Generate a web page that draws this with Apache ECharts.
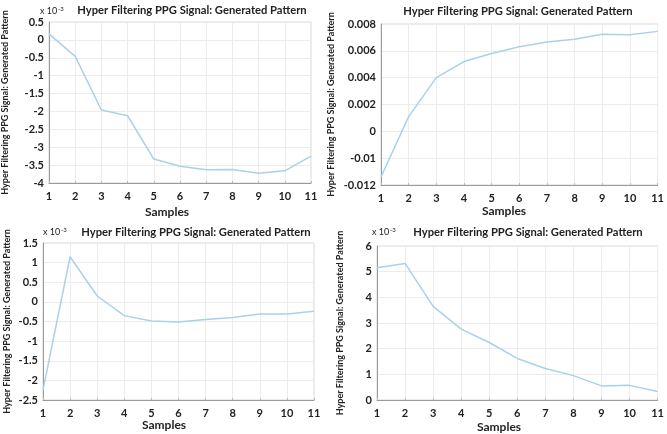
<!DOCTYPE html>
<html>
<head>
<meta charset="utf-8">
<script src="https://cdn.jsdelivr.net/npm/echarts@6/dist/echarts.min.js"></script>
<style>
html,body{margin:0;padding:0;background:#fff;}
#chart{width:667px;height:434px;}
</style>
</head>
<body>
<div id="chart"></div>
<script>
// ---- data ----
const samples = [1, 2, 3, 4, 5, 6, 7, 8, 9, 10, 11];
// panel 1 (top-left), values in units of 1e-3
const seriesTL = [0.17, -0.46, -1.96, -2.12, -3.33, -3.53, -3.63, -3.62, -3.73, -3.66, -3.25];
// panel 2 (top-right), raw values on the plotted scale
const seriesTR = [-0.0034, 0.0011, 0.0040, 0.0052, 0.0058, 0.0063, 0.00665, 0.00686, 0.00724, 0.0072, 0.00745];
const tickLabelsTR = ["-0.012", "-0.01", "0", "0.002", "0.004", "0.006", "0.008"];
// panel 3 (bottom-left), values in units of 1e-3
const seriesBL = [-2.25, 1.15, 0.15, -0.35, -0.49, -0.51, -0.45, -0.40, -0.31, -0.31, -0.24];
// panel 4 (bottom-right), values in units of 1e-3
const seriesBR = [5.15, 5.32, 3.65, 2.76, 2.24, 1.62, 1.23, 0.95, 0.55, 0.57, 0.33];

const titleText = "Hyper Filtering PPG Signal: Generated Pattern";
const yNameText = "Hyper Filtering PPG Signal: Generated Pattern";
const xNameText = "Samples";
const scaleText = "x 10";
const scaleExp = "-3";

const FONT = "Lato";
const LINE = "#a9d1ec";

const grids = [
  {left: 49, top: 22, width: 262, height: 161},
  {left: 381, top: 24, width: 282, height: 161},
  {left: 43, top: 243, width: 271, height: 157},
  {left: 377, top: 246, width: 288, height: 154}
];

function xAxisFor(i) {
  return {
    type: 'value', gridIndex: i, min: 1, max: 11, interval: 1,
    axisLine: {show: true, onZero: false, lineStyle: {color: '#9a9a9a', width: 1}},
    axisTick: {show: true, inside: true, length: 2, lineStyle: {color: '#bbb'}},
    axisLabel: {color: '#222', fontFamily: FONT, fontWeight: 'bold', fontSize: 11, margin: 8},
    splitLine: {show: true, lineStyle: {color: '#ececec', width: 1}}
  };
}
function yAxisFor(i, min, max, interval, gap, fmt) {
  const a = {
    type: 'value', gridIndex: i, min: min, max: max, interval: interval,
    name: yNameText, nameLocation: 'middle', nameGap: gap, nameRotate: 90,
    nameTextStyle: {color: '#222', fontFamily: FONT, fontSize: 9, fontWeight: 'bold'},
    axisLine: {show: true, onZero: false, lineStyle: {color: '#9a9a9a', width: 1}},
    axisTick: {show: false},
    axisLabel: {color: '#222', fontFamily: FONT, fontWeight: 'bold', fontSize: 11, margin: 5},
    splitLine: {show: true, lineStyle: {color: '#ececec', width: 1}}
  };
  if (fmt) a.axisLabel.formatter = fmt;
  return a;
}

function seriesFor(i, vals) {
  return {
    type: 'line', xAxisIndex: i, yAxisIndex: i,
    data: samples.map((s, k) => [s, vals[k]]),
    showSymbol: false, symbol: 'none',
    lineStyle: {color: LINE, width: 1.5},
    silent: true, animation: false
  };
}

function textG(x, y, text, size, align, weight) {
  return {type: 'text', x: x, y: y, style: {text: text, font: (weight || 'bold') + ' ' + size + 'px ' + FONT, fill: '#222', textAlign: align || 'center', textVerticalAlign: 'middle'}};
}
function scaleG(x, y) {
  return [textG(x, y, scaleText, 9, 'left', 'normal'), textG(x + 18, y - 2, scaleExp, 6, 'left', 'normal')];
}

const chart = echarts.init(document.getElementById('chart'), null, {renderer: 'canvas'});
const tlFmt = v => String(Math.round(v * 10) / 10);
const trFmt = v => {
  const idx = Math.round((v - (-0.004)) / 0.002);
  return tickLabelsTR[idx] !== undefined ? tickLabelsTR[idx] : '';
};

chart.setOption({
  animation: false,
  backgroundColor: '#fff',
  grid: grids.map(g => Object.assign({show: true, borderColor: '#d8d8d8', borderWidth: 1}, g)),
  xAxis: [0, 1, 2, 3].map(xAxisFor),
  yAxis: [
    yAxisFor(0, -4, 0.5, 0.5, 39, tlFmt),
    yAxisFor(1, -0.004, 0.008, 0.002, 45, trFmt),
    yAxisFor(2, -2.5, 1.5, 0.5, 31, tlFmt),
    yAxisFor(3, 0, 6, 1, 32, tlFmt)
  ],
  series: [seriesFor(0, seriesTL), seriesFor(1, seriesTR), seriesFor(2, seriesBL), seriesFor(3, seriesBR)],
  graphic: [
    textG(192, 10, titleText, 11.2),
    textG(518, 11, titleText, 11.2),
    textG(196, 232, titleText, 11.2),
    textG(528, 232, titleText, 11.2),
    textG(167, 212, xNameText, 12),
    textG(504, 211, xNameText, 12),
    textG(164, 425, xNameText, 12),
    textG(499, 427, xNameText, 12)
  ].concat(scaleG(40, 11), scaleG(43, 232), scaleG(372, 232))
});
</script>
</body>
</html>
